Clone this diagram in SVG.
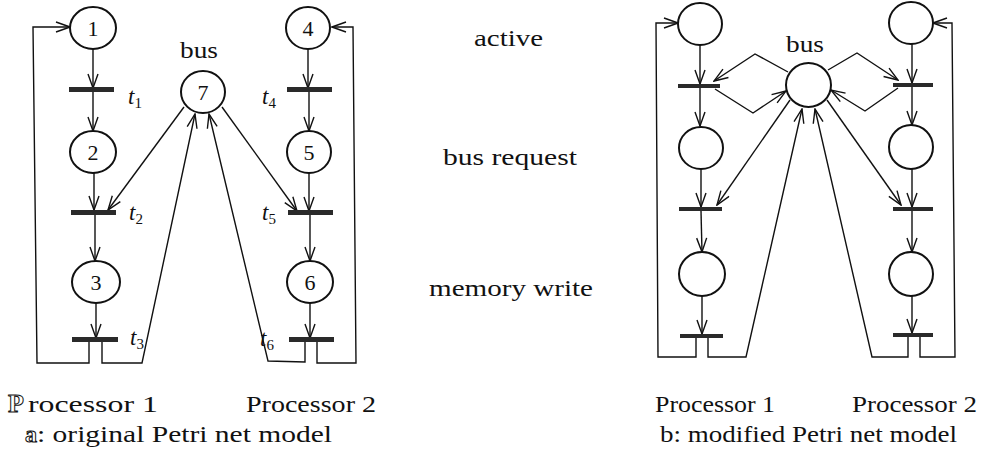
<svg xmlns="http://www.w3.org/2000/svg" width="984" height="457" viewBox="0 0 984 457" font-family="'Liberation Serif', 'DejaVu Serif', 'Times New Roman', serif">
<style>
.pl{fill:none;stroke:#111;stroke-width:2}
.bar{fill:#2a2a2a}
.ln{fill:none;stroke:#111;stroke-width:1.4;marker-end:url(#ah)}
text{font-family:'Liberation Serif','DejaVu Serif','Times New Roman',serif;fill:#111}
.num{font-size:22px;text-anchor:middle}
.tl{font-style:italic;font-size:23px}
.sub{font-size:15px;font-style:normal}
.tx{font-size:23px}
.od{font-weight:bold;fill:#fff;stroke:#111;stroke-width:1}
</style>
<defs>
<marker id="ah" markerUnits="userSpaceOnUse" viewBox="0 0 16 12" markerWidth="16" markerHeight="12" refX="15" refY="6" orient="auto">
<path d="M1,1 L15,6 L1,11" fill="none" stroke="#111" stroke-width="1.4"/>
</marker>
</defs>

<g id="connectors">
<line class="ln" x1="93" y1="49" x2="93" y2="88"/>
<line class="ln" x1="93" y1="92" x2="93" y2="131"/>
<line class="ln" x1="94" y1="173" x2="94" y2="210"/>
<line class="ln" x1="95" y1="215" x2="95" y2="261"/>
<line class="ln" x1="96" y1="303" x2="96" y2="338"/>
<polyline class="ln" points="89,342 89,363 37,363 33,27 70,27"/>
<polyline class="ln" points="102,342 102,363 142,363 195,114"/>
<line class="ln" x1="184" y1="107" x2="108" y2="210"/>
<line class="ln" x1="222" y1="107" x2="297" y2="211"/>
<line class="ln" x1="308" y1="49" x2="308" y2="88"/>
<line class="ln" x1="309" y1="92" x2="309" y2="131"/>
<line class="ln" x1="309" y1="173" x2="309" y2="211"/>
<line class="ln" x1="310" y1="215" x2="310" y2="261"/>
<line class="ln" x1="310" y1="303" x2="310" y2="338"/>
<polyline class="ln" points="305,342 305,362 268,361 209,114"/>
<polyline class="ln" points="317,342 317,363 356,363 353,27 332,27"/>
<line class="ln" x1="700" y1="45" x2="700" y2="84"/>
<line class="ln" x1="700" y1="88" x2="700" y2="126"/>
<line class="ln" x1="701" y1="169" x2="701" y2="207"/>
<line class="ln" x1="701" y1="211" x2="702" y2="252"/>
<line class="ln" x1="702" y1="296" x2="702" y2="334"/>
<polyline class="ln" points="696,338 696,357 658,357 656,23 678,23"/>
<polyline class="ln" points="708,338 708,357 746,357 802,109"/>
<line class="ln" x1="912" y1="44" x2="912" y2="83"/>
<line class="ln" x1="912" y1="87" x2="912" y2="125"/>
<line class="ln" x1="912" y1="169" x2="912" y2="207"/>
<line class="ln" x1="912" y1="211" x2="912" y2="252"/>
<line class="ln" x1="912" y1="296" x2="912" y2="333"/>
<polyline class="ln" points="908,337 908,357 872,357 815,109"/>
<polyline class="ln" points="920,337 920,357 955,357 952,23 933,23"/>
<polyline class="ln" points="788,72 755,54 714,81"/>
<polyline class="ln" points="715,89 753,113 786,91"/>
<polyline class="ln" points="828,70 857,53 898,80"/>
<polyline class="ln" points="898,88 865,111 831,90"/>
<line class="ln" x1="790" y1="100" x2="717" y2="205"/>
<line class="ln" x1="827" y1="100" x2="901" y2="205"/>
</g>

<g id="p1"><ellipse class="pl" cx="93" cy="28" rx="23" ry="21"/><text class="num" x="93" y="36">1</text></g>
<g id="p2"><ellipse class="pl" cx="93" cy="152" rx="23" ry="21"/><text class="num" x="93" y="160">2</text></g>
<g id="p3"><ellipse class="pl" cx="96" cy="282" rx="24" ry="21"/><text class="num" x="96" y="290">3</text></g>
<g id="p4"><ellipse class="pl" cx="308" cy="28" rx="22" ry="21"/><text class="num" x="308" y="36">4</text></g>
<g id="p5"><ellipse class="pl" cx="309" cy="152" rx="22" ry="21"/><text class="num" x="309" y="160">5</text></g>
<g id="p6"><ellipse class="pl" cx="310" cy="282" rx="23" ry="21"/><text class="num" x="310" y="290">6</text></g>
<g id="p7"><ellipse class="pl" cx="203" cy="92" rx="22" ry="21"/><text class="num" x="203" y="100">7</text><text class="tx" x="180" y="58" textLength="38" lengthAdjust="spacingAndGlyphs">bus</text></g>
<g id="t1"><rect class="bar" x="69" y="87" width="45" height="5"/><text class="tl" x="128" y="104">t<tspan class="sub" dy="4">1</tspan></text></g>
<g id="t2"><rect class="bar" x="71" y="210" width="45" height="5"/><text class="tl" x="129" y="220">t<tspan class="sub" dy="4">2</tspan></text></g>
<g id="t3"><rect class="bar" x="72" y="337" width="46" height="5"/><text class="tl" x="130" y="345">t<tspan class="sub" dy="4">3</tspan></text></g>
<g id="t4"><rect class="bar" x="287" y="87" width="45" height="5"/><text class="tl" x="262" y="104">t<tspan class="sub" dy="4">4</tspan></text></g>
<g id="t5"><rect class="bar" x="288" y="210" width="45" height="5"/><text class="tl" x="262" y="220">t<tspan class="sub" dy="4">5</tspan></text></g>
<g id="t6"><rect class="bar" x="289" y="337" width="45" height="5"/><text class="tl" x="260" y="346">t<tspan class="sub" dy="4">6</tspan></text></g>

<g id="bp1"><ellipse class="pl" cx="700" cy="24" rx="22" ry="21"/></g>
<g id="bp2"><ellipse class="pl" cx="701" cy="148" rx="22" ry="21"/></g>
<g id="bp3"><ellipse class="pl" cx="702" cy="274" rx="23" ry="22"/></g>
<g id="bp4"><ellipse class="pl" cx="911" cy="23" rx="22" ry="21"/></g>
<g id="bp5"><ellipse class="pl" cx="911" cy="147" rx="22" ry="22"/></g>
<g id="bp6"><ellipse class="pl" cx="911" cy="274" rx="22" ry="22"/></g>
<g id="bbus"><ellipse class="pl" cx="808.5" cy="85" rx="22.5" ry="22"/><text class="tx" x="786" y="52" textLength="38" lengthAdjust="spacingAndGlyphs">bus</text></g>
<g id="bt1"><rect class="bar" x="678" y="84" width="42" height="4"/></g>
<g id="bt2"><rect class="bar" x="679" y="207" width="43" height="4"/></g>
<g id="bt3"><rect class="bar" x="680" y="334" width="43" height="4"/></g>
<g id="bt4"><rect class="bar" x="893" y="83" width="40" height="4"/></g>
<g id="bt5"><rect class="bar" x="893" y="207" width="40" height="4"/></g>
<g id="bt6"><rect class="bar" x="893" y="333" width="40" height="4"/></g>

<g id="labels">
<text class="tx" x="474" y="46" textLength="69" lengthAdjust="spacingAndGlyphs">active</text>
<text class="tx" x="443" y="165" textLength="134" lengthAdjust="spacingAndGlyphs">bus request</text>
<text class="tx" x="429" y="296" textLength="164" lengthAdjust="spacingAndGlyphs">memory write</text>
<text class="tx" x="8" y="412"><tspan class="od" font-size="26">P</tspan><tspan dx="4" textLength="130" lengthAdjust="spacingAndGlyphs">rocessor 1</tspan></text>
<text class="tx" x="246" y="412" textLength="130" lengthAdjust="spacingAndGlyphs">Processor 2</text>
<text class="tx" x="25" y="442"><tspan class="od" font-size="24">a</tspan><tspan textLength="295" lengthAdjust="spacingAndGlyphs">: original Petri net model</tspan></text>
<text class="tx" x="655" y="412" textLength="120" lengthAdjust="spacingAndGlyphs">Processor 1</text>
<text class="tx" x="852" y="412" textLength="125" lengthAdjust="spacingAndGlyphs">Processor 2</text>
<text class="tx" x="660" y="442" textLength="297" lengthAdjust="spacingAndGlyphs">b: modified Petri net model</text>
</g>
</svg>
